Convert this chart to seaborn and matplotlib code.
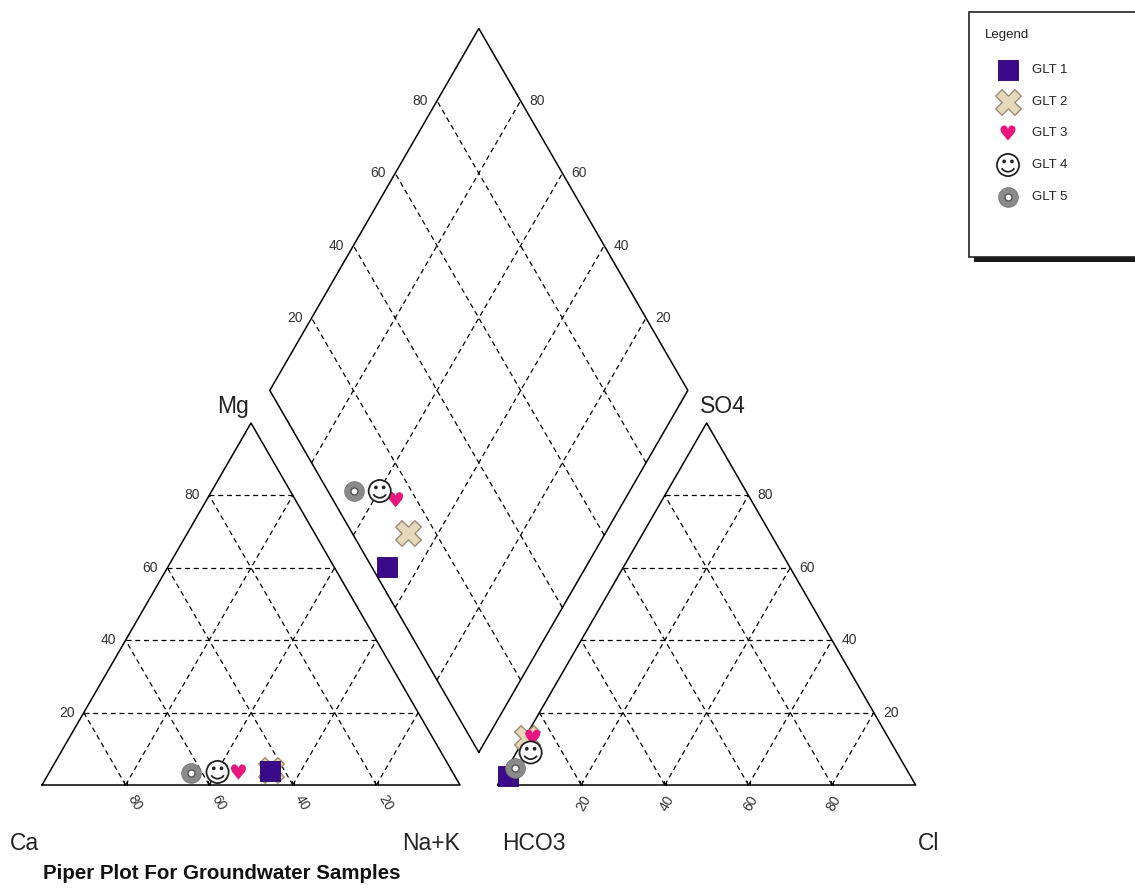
import numpy as np
import pandas as pd
import matplotlib.pyplot as plt
from matplotlib.patches import Rectangle
import seaborn as sns

# sample chemistry in % meq/L
samples = ['GLT 1', 'GLT 2', 'GLT 3', 'GLT 4', 'GLT 5']
ca = [43.5, 43.0, 51.2, 56.2, 62.6]
mg = [4.0, 4.2, 3.6, 3.6, 3.3]
na_k = [52.5, 52.8, 45.2, 40.2, 34.1]
hco3 = [96.3, 86.6, 85.0, 87.6, 93.6]
so4 = [2.5, 12.9, 13.2, 9.0, 4.6]
cl = [1.2, 0.5, 1.8, 3.4, 1.8]

grid_vals = [20, 40, 60, 80]

sns.set_style('white')
plt.rcParams['font.family'] = ['Liberation Sans', 'DejaVu Sans']

# geometry: triangles with side 100, gap between them
GAP = 9
h = np.sqrt(3) / 2
H = 100 * h
B = np.array([100 + GAP / 2, GAP * h])   # diamond bottom
L = B + np.array([-50, H])
R = B + np.array([50, H])
T = B + np.array([0, 2 * H])
X0 = 100 + GAP                           # right triangle origin

df = pd.DataFrame({'sample': samples, 'ca': ca, 'mg': mg, 'na_k': na_k,
                   'hco3': hco3, 'so4': so4, 'cl': cl})
df['lx'] = df['na_k'] + df['mg'] / 2
df['ly'] = df['mg'] * h
df['rx'] = X0 + df['cl'] + df['so4'] / 2
df['ry'] = df['so4'] * h
a = (100 - df['na_k']) / 100
b = (100 - df['hco3']) / 100
df['dx'] = B[0] + a * (L - B)[0] + b * (R - B)[0]
df['dy'] = B[1] + a * (L - B)[1] + b * (R - B)[1]

# marker layers per sample
styles = {
    'GLT 1': [dict(marker='s', s=220, color='#3b0a8a', edgecolor='#2a0066', linewidth=0.6)],
    'GLT 2': [dict(marker='X', s=340, color='#e6d8ba', edgecolor='#9c8c74', linewidth=1.0)],
    'GLT 3': [dict(marker='$\u2665$', s=120, color='#e8177f', edgecolor='none', linewidth=0)],
    'GLT 4': [dict(marker='o', s=220, color='white', edgecolor='none', linewidth=0),
              dict(marker='$\u263a$', s=300, color='#222222', edgecolor='none', linewidth=0)],
    'GLT 5': [dict(marker='o', s=200, color='#8a8a8a', edgecolor='#777777', linewidth=0.6),
              dict(marker='o', s=26, color='white', edgecolor='#555555', linewidth=1.0)],
}
draw_order = ['GLT 2', 'GLT 1', 'GLT 3', 'GLT 4', 'GLT 5']


def draw_marks(axis, xs, ys, name, z):
    for k, layer in enumerate(styles[name]):
        sns.scatterplot(x=xs, y=ys, ax=axis, legend=False, zorder=z + k * 0.1, **layer)


fig = plt.figure(figsize=(11.35, 8.9), dpi=100)
ax = fig.add_axes([0, 0, 1, 1])
S = 4.18  # pixels per unit
ax.set_xlim(-42 / S, (1135 - 42) / S)
ax.set_ylim(-(890 - 785) / S, 785 / S)
ax.axis('off')

solid = dict(color='black', lw=1.1, zorder=2)
dash = dict(color='black', lw=0.9, ls=(0, (4, 3)), zorder=1)
tick_kw = dict(fontsize=10, color='#333333')

# --- cation triangle
ax.plot([0, 100, 50, 0], [0, 0, H, 0], **solid)
for v in grid_vals:
    ax.plot([v / 2, 100 - v / 2], [v * h, v * h], **dash)
    ax.plot([100 - v, (100 - v) / 2], [0, (100 - v) * h], **dash)
    ax.plot([v, v + (100 - v) / 2], [0, (100 - v) * h], **dash)
    ax.text(v / 2 - 2.2, v * h, str(v), ha='right', va='center', **tick_kw)
    ax.text(v + 2.2, -4.3, str(100 - v), ha='center', va='center', rotation=-60, **tick_kw)
    for d in (-0.3, 0.3):
        ax.plot([v + d, v + d], [0, 0.9], color='black', lw=0.8)

# --- anion triangle
ax.plot([X0, X0 + 100, X0 + 50, X0], [0, 0, H, 0], **solid)
for v in grid_vals:
    ax.plot([X0 + v / 2, X0 + 100 - v / 2], [v * h, v * h], **dash)
    ax.plot([X0 + v, X0 + v / 2 + 50], [0, (100 - v) * h], **dash)
    ax.plot([X0 + v, X0 + v / 2], [0, v * h], **dash)
    ax.text(X0 + 100 - v / 2 + 2.2, v * h, str(v), ha='left', va='center', **tick_kw)
    ax.text(X0 + v + 0.5, -4.3, str(v), ha='center', va='center', rotation=60, **tick_kw)
    for d in (-0.3, 0.3):
        ax.plot([X0 + v + d, X0 + v + d], [0, 0.9], color='black', lw=0.8)

# --- diamond
dia = np.array([B, L, T, R, B])
ax.plot(dia[:, 0], dia[:, 1], **solid)
for v in grid_vals:
    f = v / 100
    p1 = B + f * (L - B)
    ax.plot([p1[0], p1[0] + (R - B)[0]], [p1[1], p1[1] + (R - B)[1]], **dash)
    p2 = B + f * (R - B)
    ax.plot([p2[0], p2[0] + (L - B)[0]], [p2[1], p2[1] + (L - B)[1]], **dash)
    pl = L + f * (T - L)
    ax.text(pl[0] - 2.2, pl[1], str(v), ha='right', va='center', **tick_kw)
    pr = R + f * (T - R)
    ax.text(pr[0] + 2.2, pr[1], str(v), ha='left', va='center', **tick_kw)

# --- samples
for z, name in enumerate(draw_order):
    row = df[df['sample'] == name]
    xs = pd.concat([row['lx'], row['rx'], row['dx']]).to_numpy()
    ys = pd.concat([row['ly'], row['ry'], row['dy']]).to_numpy()
    draw_marks(ax, xs, ys, name, 5 + z)

# --- axis names
lab_kw = dict(fontsize=16.5, color='#222222', va='center')
ax.text(-7.7, -13.9, 'Ca', ha='left', **lab_kw)
ax.text(100, -13.9, 'Na+K', ha='right', **lab_kw)
ax.text(X0 + 1, -13.9, 'HCO3', ha='left', **lab_kw)
ax.text(X0 + 100.5, -13.9, 'Cl', ha='left', **lab_kw)
ax.text(45.7, 90.5, 'Mg', ha='center', **lab_kw)
ax.text(X0 + 54, 90.5, 'SO4', ha='center', **lab_kw)
ax.text(0.3, -21.2, 'Piper Plot For Groundwater Samples', ha='left', va='center',
        fontsize=14.8, fontweight='bold', color='#111111')

# --- legend box (pixel coordinates)
lax = fig.add_axes([0, 0, 1, 1], facecolor='none')
lax.set_xlim(0, 1135)
lax.set_ylim(890, 0)
lax.axis('off')
lax.add_patch(Rectangle((974, 17), 200, 245, facecolor='#1a1a1a', edgecolor='none', zorder=1))
lax.add_patch(Rectangle((969, 12), 200, 245, facecolor='white', edgecolor='#222222', lw=1.2, zorder=2))
lax.text(985, 35, 'Legend', fontsize=9.5, color='#222222', va='center', ha='left', zorder=3)
row_y = [70, 102, 133, 165, 197]
for name, yy in zip(samples, row_y):
    draw_marks(lax, [1008], [yy], name, 5)
    lax.text(1032, yy, name, fontsize=9.5, color='#222222', va='center', ha='left', zorder=6)

fig.savefig('out.png', dpi=100)
